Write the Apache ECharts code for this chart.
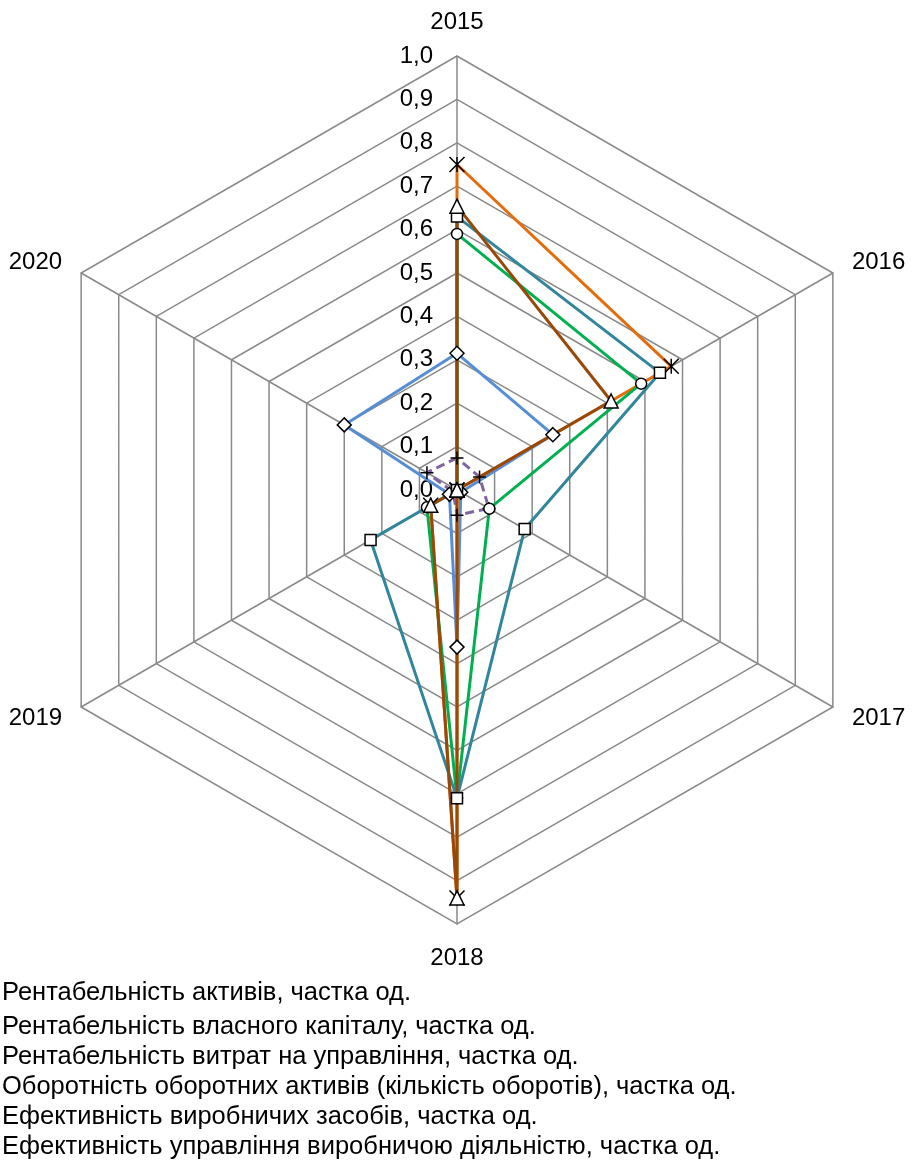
<!DOCTYPE html>
<html>
<head>
<meta charset="utf-8">
<script src="https://cdn.jsdelivr.net/npm/echarts@6/dist/echarts.min.js"></script>
<style>
html,body{margin:0;padding:0;background:#fff;}
#chart{width:912px;height:1167px;}
</style>
</head>
<body>
<div id="chart"></div>
<script>
// Indicators (years), clockwise from the top
const years = ['2015', '2016', '2017', '2018', '2019', '2020'];
const tickStep = 0.1;

const seriesNames = [
  'Рентабельність активів, частка од.',
  'Рентабельність власного капіталу, частка од.',
  'Рентабельність витрат на управління, частка од.',
  'Оборотність оборотних активів (кількість оборотів), частка од.',
  'Ефективність виробничих засобів, частка од.',
  'Ефективність управління виробничою діяльністю, частка од.'
];

// values per year 2015..2020
const roaValues        = [0.074, 0.06, 0.085, 0.058, 0.01, 0.08];
const roeValues        = [0.75, 0.57, 0.0, 0.94, 0.07, 0.0];
const mgmtCostValues   = [0.315, 0.255, 0.01, 0.362, 0.02, 0.30];
const turnoverValues   = [0.63, 0.54, 0.18, 0.71, 0.23, 0.0];
const prodAssetsValues = [0.59, 0.49, 0.086, 0.71, 0.08, 0.0];
const prodMgmtValues   = [0.654, 0.41, 0.0, 0.94, 0.07, 0.0];

// ECharts radar lays indicators counter-clockwise: reorder to get clockwise years
const order = [0, 5, 4, 3, 2, 1];
const reorder = arr => order.map(i => arr[i]);

const FONT = '"Liberation Sans", Arial, sans-serif';
const PLUS = 'path://M5,0L5,10M0,5L10,5';
const STAR = 'path://M0,0L10,10M10,0L0,10M5,0L5,10';

function mk(nameIdx, values, color, symbol, size, dashed) {
  return {
    type: 'radar',
    name: seriesNames[nameIdx],
    symbol: symbol,
    symbolSize: size,
    lineStyle: { color: color, width: 3, type: dashed ? [9, 5] : 'solid' },
    itemStyle: { color: '#fff', borderColor: '#000', borderWidth: 1.5 },
    emphasis: { disabled: true },
    data: [{ value: reorder(values), name: seriesNames[nameIdx] }]
  };
}

const chart = echarts.init(document.getElementById('chart'), null, { renderer: 'canvas' });
const indicators = reorder(years).map((y, i) => ({
  name: y, min: 0, max: 1,
  axisLabel: { show: y === years[0] }
}));

const legendText = { color: '#000', fontSize: 25.5, lineHeight: 26, fontFamily: FONT };

chart.setOption({
  animation: false,
  backgroundColor: '#fff',
  textStyle: { fontFamily: FONT },
  radar: {
    center: [457, 490],
    radius: 434,
    startAngle: 90,
    shape: 'polygon',
    splitNumber: Math.round(1 / tickStep),
    indicator: indicators,
    nameGap: 22,
    axisName: { color: '#000', fontSize: 24, fontFamily: FONT },
    axisLine: { lineStyle: { color: '#898989', width: 1.5 } },
    splitLine: { lineStyle: { color: '#898989', width: 1.5 } },
    splitArea: { show: false },
    axisTick: { show: false },
    axisLabel: {
      show: false, color: '#000', fontSize: 24, fontFamily: FONT, margin: 24,
      formatter: v => Number(v).toFixed(1).replace('.', ',')
    }
  },
  legend: [
    {
      orient: 'vertical', left: -4, top: 980, padding: 0, itemWidth: 0, itemHeight: 0, itemGap: 4,
      selectedMode: false, data: [seriesNames[0]], textStyle: legendText
    },
    {
      orient: 'vertical', left: -4, top: 1014, padding: 0, itemWidth: 0, itemHeight: 0, itemGap: 4,
      selectedMode: false, data: seriesNames.slice(1), textStyle: legendText
    }
  ],
  series: [
    mk(0, roaValues, '#8064A2', PLUS, 13, true),
    mk(2, mgmtCostValues, '#558ED5', 'diamond', 14, false),
    mk(1, roeValues, '#E46C0A', STAR, 15, false),
    mk(4, prodAssetsValues, '#00B050', 'circle', 11, false),
    mk(3, turnoverValues, '#31859C', 'rect', 11, false),
    mk(5, prodMgmtValues, '#984807', 'triangle', 14, false)
  ]
});
</script>
</body>
</html>
